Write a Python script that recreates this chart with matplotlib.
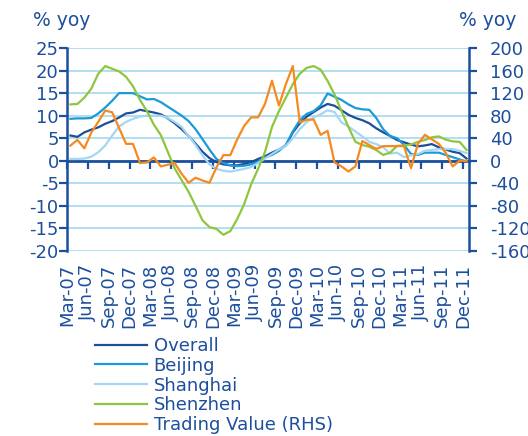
import numpy as np
import matplotlib
matplotlib.use("Agg")
import matplotlib.pyplot as plt

plt.rcParams['font.family'] = ['DejaVu Sans']
plt.rcParams['axes.unicode_minus'] = False

# monthly data, Mar-07 .. Dec-11 (% yoy)
overall = [5.6, 5.3, 6.3, 6.9, 7.4, 8.2, 8.8, 9.6, 10.5, 10.7,
           11.3, 11.0, 10.7, 10.3, 9.4, 8.3, 7.0, 5.5, 3.8, 2.0,
           0.6, -0.3, -0.8, -1.0, -1.0, -0.7, -0.3, 0.4, 1.0, 1.8,
           2.5, 3.4, 6.3, 8.3, 9.8, 10.8, 11.8, 12.6, 12.2, 11.2,
           10.2, 9.5, 9.0, 8.3, 7.2, 6.3, 5.5, 4.6, 4.1, 3.6,
           3.2, 3.4, 3.7, 3.0, 2.5, 2.0, 1.7, 0.5]
beijing = [9.3, 9.4, 9.4, 9.5, 10.5, 11.8, 13.3, 15.0, 15.0, 15.0,
           14.3, 13.6, 13.7, 13.0, 12.0, 11.0, 10.0, 8.8, 7.0, 4.8,
           2.5, 0.4, -0.5, -1.0, -1.2, -1.1, -0.8, -0.2, 0.7, 1.3,
           2.2, 3.5, 6.5, 9.0, 10.4, 11.0, 12.3, 14.9, 14.2, 13.5,
           12.5, 11.7, 11.4, 11.3, 9.5, 7.0, 5.5, 5.0, 3.5, 1.5,
           1.3, 1.8, 1.8, 1.8, 1.3, 0.8, 0.3, -0.2]
shanghai = [0.4, 0.4, 0.5, 0.9, 1.9, 3.4, 5.6, 7.6, 8.6, 9.3,
            9.8, 10.0, 10.0, 10.0, 9.5, 8.6, 7.5, 5.5, 3.5, 1.2,
            -0.8, -1.8, -2.2, -2.4, -2.1, -1.8, -1.4, -0.5, 0.5, 1.5,
            2.5, 3.3, 5.0, 7.0, 8.6, 9.6, 10.3, 11.2, 10.8, 8.5,
            7.6, 6.5, 5.4, 4.2, 3.7, 3.0, 1.6, 1.8, 0.8, 1.2,
            1.5, 2.2, 2.4, 2.6, 2.6, 2.6, 2.2, 1.7]
shenzhen = [12.5, 12.6, 14.0, 16.0, 19.3, 21.0, 20.4, 19.8, 18.6, 16.5,
            13.5, 11.0, 8.0, 5.7, 2.0, -1.7, -4.3, -6.9, -10.0, -13.2,
            -14.7, -15.1, -16.4, -15.6, -12.9, -9.6, -5.2, -1.8, 2.0, 7.5,
            11.0, 14.0, 17.0, 19.3, 20.6, 21.0, 20.2, 17.7, 14.7, 11.0,
            7.5, 4.2, 3.5, 3.1, 2.4, 1.3, 1.8, 3.3, 3.4, 3.6,
            4.2, 4.6, 5.2, 5.4, 4.7, 4.3, 4.2, 2.4]
trading = [27, 37, 22, 50, 69, 89, 86, 58, 30, 30,
           -4, -3, 6, -10, -7, -4, -23, -39, -30, -35,
           -39, -12, 10, 10, 38, 62, 77, 77, 101, 142,
           98, 136, 168, 68, 73, 73, 46, 53, -3, -10,
           -19, -10, 35, 28, 21, 26, 26, 26, 26, -13,
           30, 46, 38, 30, 14, -10, 0, 0]

tick_labels = ['Mar-07', 'Jun-07', 'Sep-07', 'Dec-07', 'Mar-08', 'Jun-08',
               'Sep-08', 'Dec-08', 'Mar-09', 'Jun-09', 'Sep-09', 'Dec-09',
               'Mar-10', 'Jun-10', 'Sep-10', 'Dec-10', 'Mar-11', 'Jun-11',
               'Sep-11', 'Dec-11']
names = ['Overall', 'Beijing', 'Shanghai', 'Shenzhen', 'Trading Value (RHS)']

dark = '#1C4F9C'
grid_c = '#A6D8F2'
colors = ['#1F4E99', '#1A9AD6', '#A3D7F2', '#8DC63F', '#F58A1F']

x = np.arange(len(overall))

fig = plt.figure(figsize=(5.28, 4.36), dpi=100)
ax = fig.add_axes([67 / 528, 1 - 251 / 436, 402 / 528, 203 / 436])
ax2 = ax.twinx()

lines = []
for vals, c in zip([overall, beijing, shanghai, shenzhen], colors[:4]):
    l, = ax.plot(x, vals, color=c, lw=1.6, zorder=3)
    lines.append(l)
l, = ax2.plot(x, trading, color=colors[4], lw=1.6, zorder=3)
lines.append(l)

ax.set_xlim(-0.5, 57.35)
ax.set_ylim(-20, 25)
ax.set_yticks(np.arange(-20, 26, 5))
ax2.set_ylim(-160, 200)
ax2.set_yticks(np.arange(-160, 201, 40))

ax.yaxis.grid(True, color=grid_c, lw=1.2)
ax.set_axisbelow(True)

# zero line with ticks, labels at the bottom
ticks = np.arange(len(tick_labels)) * 3 - 0.5
ax.spines['bottom'].set_position(('data', 0))
ax.spines['bottom'].set_color(dark)
ax.spines['bottom'].set_linewidth(2)
ax.set_xticks(ticks)
ax.tick_params(axis='x', direction='out', length=6, width=1.6,
               colors=dark, labelbottom=False)
secax = ax.secondary_xaxis('bottom')
secax.set_xticks(ticks, labels=tick_labels, rotation=90)
secax.tick_params(length=0, pad=9, labelsize=13, labelcolor=dark)
secax.spines['bottom'].set_visible(False)

for s in ['top', 'right']:
    ax.spines[s].set_visible(False)
for s in ['top', 'bottom', 'left']:
    ax2.spines[s].set_visible(False)
ax.spines['left'].set_color(dark)
ax.spines['left'].set_linewidth(1.8)
ax2.spines['right'].set_color(dark)
ax2.spines['right'].set_linewidth(1.8)

ax.tick_params(axis='y', direction='out', length=6, width=1.6, colors=dark,
               labelsize=13, pad=0)
ax2.tick_params(axis='y', direction='out', length=6, width=1.6, colors=dark,
                labelsize=13, pad=9)

fig.text(33 / 528, 1 - 21 / 436, '% yoy', ha='left', va='center',
         fontsize=13.5, color=dark)
fig.text(459 / 528, 1 - 21 / 436, '% yoy', ha='left', va='center',
         fontsize=13.5, color=dark)

fig.legend(lines, names, loc='upper left', bbox_to_anchor=(95 / 528, 1 - 337 / 436),
           frameon=False, fontsize=13, labelcolor=dark, handlelength=2.9,
           handletextpad=0.35, labelspacing=0.1, borderpad=0, borderaxespad=0)

fig.savefig('out.png', dpi=100)
